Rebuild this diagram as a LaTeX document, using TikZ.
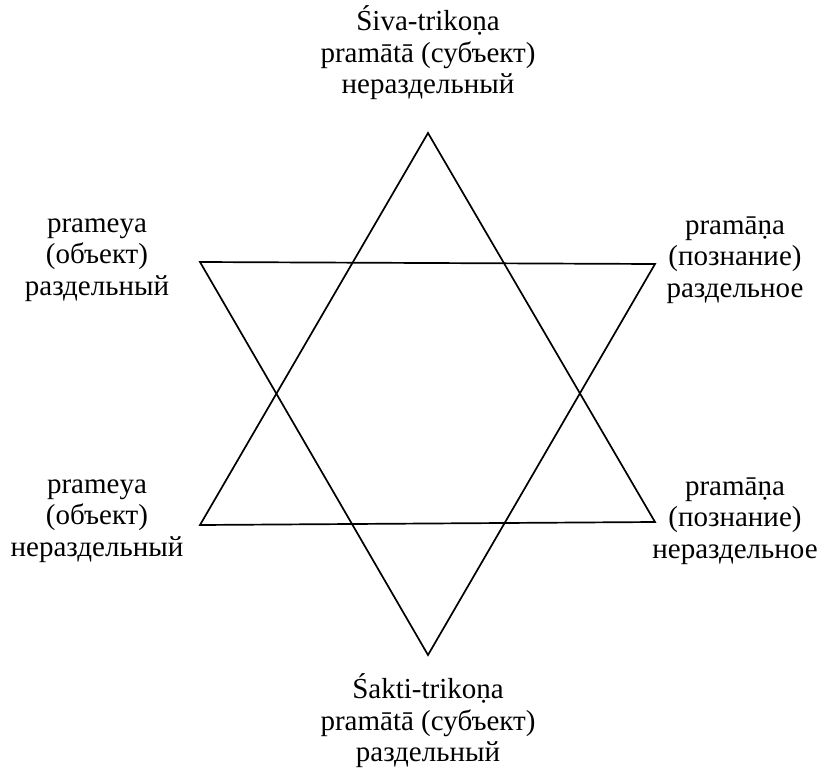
\documentclass[tikz,border=0pt]{standalone}
\usepackage{fontspec}
\setmainfont{Liberation Serif}
\usetikzlibrary{positioning}

\begin{document}
\begin{tikzpicture}[
  x=1pt, y=-1pt,
  edge/.style={draw, line width=1.7pt, line join=miter},
  lbl/.style={align=center, inner sep=0pt, font=\fontsize{29}{31.5}\selectfont}
]
\useasboundingbox (0,0) rectangle (839,774);
% corners of the two triangles
\coordinate (up) at (428,133);
\coordinate (upl) at (200,525);
\coordinate (upr) at (655,522);
\coordinate (dnl) at (200,262);
\coordinate (dnr) at (655,264);
\coordinate (dn) at (428,655);

\draw[edge] (up) -- (upl) -- (upr) -- cycle;
\draw[edge] (dnl) -- (dnr) -- (dn) -- cycle;

\node[lbl] (siva) at (428,53) {Śiva-trikoṇa\\pramātā (субъект)\\нераздельный};
\node[lbl] (sakti) at (428,721) {Śakti-trikoṇa\\pramātā (субъект)\\раздельный};
\node[lbl] (objtop) at (97,260) {prameya\\(объект)\\раздельный};
\node[lbl] (objbot) at (97,521) {prameya\\(объект)\\нераздельный};
\node[lbl] (kntop) at (735,260) {pramāṇa\\(познание)\\раздельное};
\node[lbl] (knbot) at (735,521) {pramāṇa\\(познание)\\нераздельное};
\end{tikzpicture}
\end{document}
